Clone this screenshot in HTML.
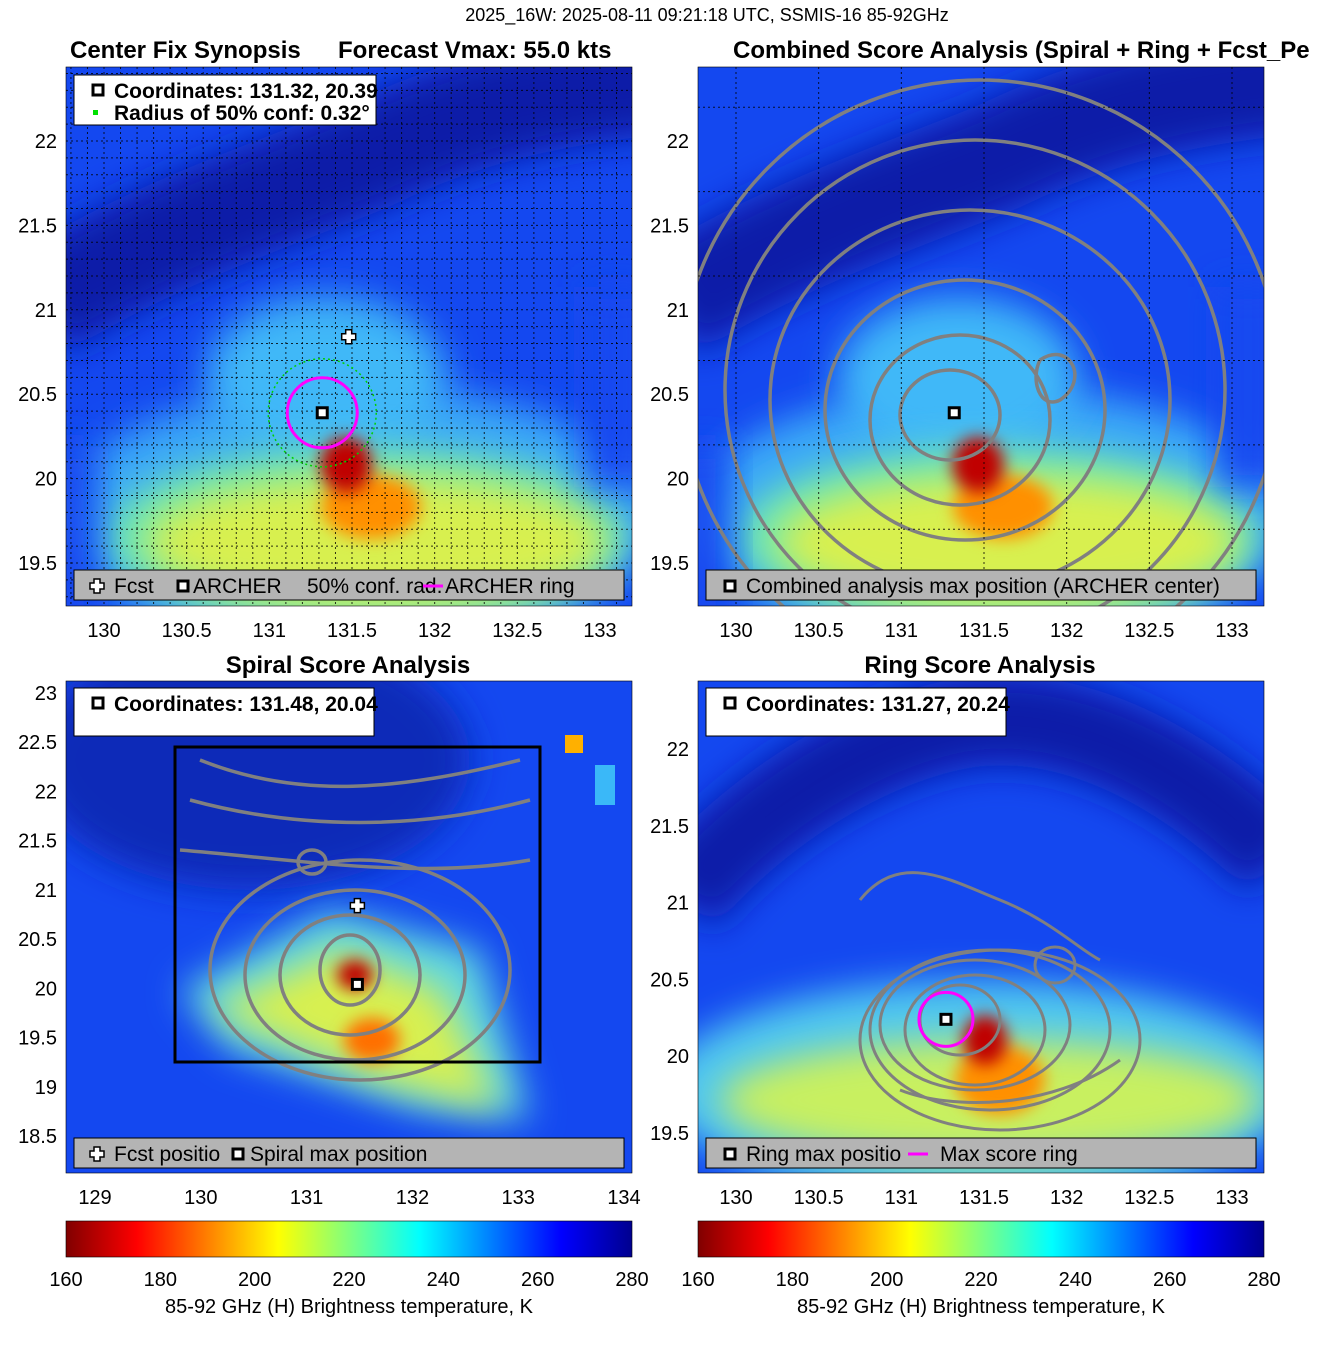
<!DOCTYPE html>
<html><head><meta charset="utf-8"><style>
body{margin:0;background:#fff;}
svg{display:block;font-family:"Liberation Sans",sans-serif;}
</style></head><body>
<svg id="fig" width="1317" height="1350" viewBox="0 0 1317 1350" xmlns="http://www.w3.org/2000/svg">
<defs>
<filter id="b1" x="-50%" y="-50%" width="200%" height="200%"><feGaussianBlur stdDeviation="18"/></filter>
<filter id="b2" x="-50%" y="-50%" width="200%" height="200%"><feGaussianBlur stdDeviation="8"/></filter>
<clipPath id="c1"><rect x="66" y="67" width="566" height="539"/></clipPath>
<clipPath id="c2"><rect x="698" y="67" width="566" height="539"/></clipPath>
<clipPath id="c3"><rect x="66" y="681" width="566" height="492"/></clipPath>
<clipPath id="c4"><rect x="698" y="681" width="566" height="492"/></clipPath>
<linearGradient id="jet" x1="0" x2="1" y1="0" y2="0">
<stop offset="0" stop-color="#800000"/><stop offset="0.125" stop-color="#ff0000"/><stop offset="0.375" stop-color="#ffff00"/><stop offset="0.625" stop-color="#00ffff"/><stop offset="0.875" stop-color="#0000ff"/><stop offset="1" stop-color="#00008f"/>
</linearGradient>
<g id="heatA">
<rect x="0" y="0" width="566" height="539" fill="#1448f0"/>
<path d="M-30,240 C80,170 200,130 300,90 C400,40 500,20 620,10" stroke="#0a1ca8" stroke-width="110" fill="none" filter="url(#b1)"/>
<ellipse cx="290" cy="450" rx="300" ry="130" fill="#3aa8f8" filter="url(#b1)"/>
<ellipse cx="260" cy="310" rx="120" ry="80" fill="#40b8f8" filter="url(#b1)"/>
<ellipse cx="300" cy="470" rx="260" ry="90" fill="#70e8b0" filter="url(#b1)"/>
<ellipse cx="310" cy="475" rx="230" ry="65" fill="#d8f050" filter="url(#b1)"/>
<ellipse cx="305" cy="440" rx="50" ry="32" fill="#ff9000" filter="url(#b2)"/>
<ellipse cx="280" cy="398" rx="26" ry="28" fill="#c00000" filter="url(#b2)"/>
<rect x="520" y="220" width="60" height="200" fill="#1448f0" filter="url(#b1)"/>
<rect x="-20" y="380" width="50" height="180" fill="#1448f0" filter="url(#b1)"/>
</g>
</defs>

<text x="707" y="21" font-size="18" text-anchor="middle">2025_16W: 2025-08-11 09:21:18 UTC, SSMIS-16 85-92GHz</text>

<!-- panel 1 -->
<g clip-path="url(#c1)"><use href="#heatA" x="66" y="67"/></g>
<g id="grid1"></g>
<text x="70" y="58" font-size="24" font-weight="bold">Center Fix Synopsis</text>
<text x="338" y="58" font-size="24" font-weight="bold">Forecast Vmax: 55.0 kts</text>

<!-- panel 2 -->
<g clip-path="url(#c2)"><use href="#heatA" x="698" y="67"/>
<g fill="none" stroke="#808080" stroke-width="3.5">
<ellipse cx="950" cy="415" rx="50" ry="45"/>
<ellipse cx="960" cy="420" rx="90" ry="85"/>
<ellipse cx="965" cy="410" rx="140" ry="130"/>
<ellipse cx="970" cy="400" rx="200" ry="190"/>
<ellipse cx="975" cy="390" rx="250" ry="250"/>
<ellipse cx="980" cy="380" rx="300" ry="300"/>
<path d="M1040,360 C1070,340 1090,380 1060,400 C1040,410 1030,380 1040,360"/>
</g></g>
<g id="grid2"></g>
<text x="733" y="58" font-size="24" font-weight="bold">Combined Score Analysis (Spiral + Ring + Fcst_Pe</text>

<!-- panel 3 -->
<g clip-path="url(#c3)">
<rect x="66" y="681" width="566" height="492" fill="#1448f0"/>
<ellipse cx="250" cy="760" rx="220" ry="130" fill="#0c2ab8" filter="url(#b1)"/>
<path d="M180,990 L330,910 L480,950 L530,1120 L420,1110 L230,1050 Z" fill="#60d8e0" filter="url(#b1)"/>
<path d="M210,1010 L340,950 L440,990 L500,1110 L380,1080 Z" fill="#d8f050" filter="url(#b1)"/>
<ellipse cx="372" cy="1040" rx="28" ry="22" fill="#ff7000" filter="url(#b2)"/>
<ellipse cx="355" cy="975" rx="18" ry="15" fill="#c00000" filter="url(#b2)"/>
<rect x="565" y="735" width="18" height="18" fill="#ffb000"/><rect x="595" y="765" width="20" height="40" fill="#3ab8f8"/>
<g fill="none" stroke="#808080" stroke-width="3.5">
<ellipse cx="350" cy="970" rx="30" ry="35"/><ellipse cx="350" cy="975" rx="70" ry="60"/><ellipse cx="355" cy="975" rx="110" ry="85"/>
<ellipse cx="360" cy="970" rx="150" ry="110"/><path d="M200,760 C300,800 400,790 520,760"/><path d="M190,800 C300,830 420,830 530,800"/>
<path d="M180,850 C300,860 420,880 530,860"/><ellipse cx="312" cy="862" rx="14" ry="12"/>
</g></g>
<rect x="175" y="747" width="365" height="315" fill="none" stroke="#000" stroke-width="3"/>
<g id="grid3"></g>
<text x="348" y="673" font-size="24" font-weight="bold" text-anchor="middle">Spiral Score Analysis</text>

<!-- panel 4 -->
<g clip-path="url(#c4)">
<rect x="698" y="681" width="566" height="492" fill="#1448f0"/>
<path d="M680,900 C760,800 900,720 1000,720 C1100,720 1200,780 1280,860" stroke="#0a1ca8" stroke-width="90" fill="none" filter="url(#b1)"/>
<ellipse cx="980" cy="1090" rx="320" ry="110" fill="#50c8f0" filter="url(#b1)"/>
<ellipse cx="990" cy="1100" rx="270" ry="60" fill="#c8f060" filter="url(#b1)"/>
<ellipse cx="1000" cy="1080" rx="45" ry="35" fill="#ff9000" filter="url(#b2)"/>
<ellipse cx="985" cy="1040" rx="22" ry="25" fill="#c00000" filter="url(#b2)"/>
<g fill="none" stroke="#808080" stroke-width="3">
<ellipse cx="960" cy="1020" rx="40" ry="35"/><ellipse cx="975" cy="1030" rx="70" ry="55"/><ellipse cx="990" cy="1030" rx="120" ry="80"/>
<ellipse cx="975" cy="1025" rx="95" ry="65"/><ellipse cx="1000" cy="1040" rx="140" ry="90"/>
<path d="M860,900 C900,850 950,880 1000,900 C1050,920 1080,950 1100,960"/><ellipse cx="1055" cy="965" rx="20" ry="18"/>
<path d="M900,1090 C950,1110 1050,1110 1120,1060"/>
</g></g>
<g id="grid4"></g>
<text x="980" y="673" font-size="24" font-weight="bold" text-anchor="middle">Ring Score Analysis</text>

<g id="overlay"></g>
</svg>
<script>
const xTicks=[130,130.5,131,131.5,132,132.5,133];
const yTicksA=[19.5,20,20.5,21,21.5,22];
const xTicks3=[129,130,131,132,133,134];
const yTicks3=[18.5,19,19.5,20,20.5,21,21.5,22,22.5,23];
const yTicks4=[19.5,20,20.5,21,21.5,22];
const cbTicks=[160,180,200,220,240,260,280];
const archerA=[131.32,20.39];
const fcstA=[131.48,20.84];
const spiralMax=[131.48,20.04];
const ringMax=[131.27,20.24];
const combinedMax=[131.32,20.39];

const NS='http://www.w3.org/2000/svg';
function el(tag,attrs,parent,txt){const e=document.createElementNS(NS,tag);for(const k in attrs)e.setAttribute(k,attrs[k]);if(txt!==undefined)e.textContent=txt;(parent||document.getElementById('overlay')).appendChild(e);return e;}
function mk(x0,x1,px0,px1){return v=>px0+(v-x0)*(px1-px0)/(x1-x0);}
const P=[
 {x:mk(130,133,104,600),y:mk(22,19.5,141,563),L:66,T:67,W:566,H:539,xt:xTicks,yt:yTicksA,g:'grid1',fine:true},
 {x:mk(130,133,736,1232),y:mk(22,19.5,141,563),L:698,T:67,W:566,H:539,xt:xTicks,yt:yTicksA,g:'grid2'},
 {x:mk(129,134,95,624),y:mk(23,18.5,693,1136),L:66,T:681,W:566,H:492,xt:xTicks3,yt:yTicks3,g:'grid3'},
 {x:mk(130,133,736,1232),y:mk(22,19.5,749,1133),L:698,T:681,W:566,H:492,xt:xTicks,yt:yTicks4,g:'grid4'}
];
P.forEach((p,i)=>{
 const g=document.getElementById(p.g);
 if(i<2){
  const step=p.fine?0.1:0.5;
  for(let v=129.5;v<=133.6;v+=step){const X=p.x(v);if(X>p.L&&X<p.L+p.W){const l=el('line',{x1:X,x2:X,y1:p.T,y2:p.T+p.H,stroke:'#000','stroke-width':1,'stroke-dasharray':'2,3',opacity:0.8},g);}}
  for(let v=19.2;v<=22.6;v+=step){const Y=p.y(v);if(Y>p.T&&Y<p.T+p.H){const l=el('line',{x1:p.L,x2:p.L+p.W,y1:Y,y2:Y,stroke:'#000','stroke-width':1,'stroke-dasharray':'2,3',opacity:0.8},g);}}
 }
 p.xt.forEach(v=>{const t=el('text',{x:p.x(v),y:p.T+p.H+31,'font-size':20,'text-anchor':'middle'},g,String(v));});
 p.yt.forEach(v=>{const t=el('text',{x:p.L-9,y:p.y(v)+7,'font-size':20,'text-anchor':'end'},g,String(v));});
});
function sqMarker(X,Y,name){const r=el('rect',{x:X-5,y:Y-5,width:10,height:10,fill:'#fff',stroke:'#000','stroke-width':3});}
function crossMarker(X,Y,name){const p=el('path',{d:`M${X-3},${Y-7}h6v4h4v6h-4v4h-6v-4h-4v-6h4z`,fill:'#fff',stroke:'#000','stroke-width':1.5});}
const p1=P[0];
const gc=el('circle',{cx:p1.x(archerA[0]),cy:p1.y(archerA[1]),r:54,fill:'none',stroke:'#00d000','stroke-width':1.5,'stroke-dasharray':'2,3'});

const mc=el('circle',{cx:p1.x(archerA[0]),cy:p1.y(archerA[1]),r:35,fill:'none',stroke:'#ff00ff','stroke-width':3});

sqMarker(p1.x(archerA[0]),p1.y(archerA[1]),'archer-center-marker');
crossMarker(p1.x(fcstA[0]),p1.y(fcstA[1]),'forecast-marker');
sqMarker(P[1].x(combinedMax[0]),P[1].y(combinedMax[1]),'combined-max-marker');
crossMarker(P[2].x(fcstA[0]),P[2].y(fcstA[1]),'spiral-forecast-marker');
sqMarker(P[2].x(spiralMax[0]),P[2].y(spiralMax[1]),'spiral-max-marker');
const rr=el('circle',{cx:P[3].x(ringMax[0]),cy:P[3].y(ringMax[1]),r:27,fill:'none',stroke:'#ff00ff','stroke-width':3});

sqMarker(P[3].x(ringMax[0]),P[3].y(ringMax[1]),'ring-max-marker');

function infoBox(x,y,w,h,lines,name){const g=el('g',{});
 el('rect',{x:x,y:y,width:w,height:h,fill:'#fff',stroke:'#000','stroke-width':1},g);
 lines.forEach((ln,i)=>{const ty=y+23+i*22;
  if(ln.m==='sq')el('rect',{x:x+19,y:ty-13,width:10,height:10,fill:'#fff',stroke:'#000','stroke-width':3},g);
  else el('rect',{x:x+19,y:ty-10,width:5,height:5,fill:'#00e000'},g);
  el('text',{x:x+40,y:ty,'font-size':21,'font-weight':'bold'},g,ln.t);});}
infoBox(74,75,302,50,[{m:'sq',t:'Coordinates: '+archerA[0].toFixed(2)+', '+archerA[1].toFixed(2)},{m:'g',t:'Radius of 50% conf: 0.32°'}],'synopsis-info-box');
infoBox(74,688,300,48,[{m:'sq',t:'Coordinates: '+spiralMax[0].toFixed(2)+', '+spiralMax[1].toFixed(2)}],'spiral-info-box');
infoBox(706,688,300,48,[{m:'sq',t:'Coordinates: '+ringMax[0].toFixed(2)+', '+ringMax[1].toFixed(2)}],'ring-info-box');

function legend(x,y,w,items,name){const g=el('g',{});
 el('rect',{x:x,y:y,width:w,height:30,fill:'#b4b4b4',stroke:'#000','stroke-width':1},g);
 items.forEach(it=>{const cy=y+16;
  if(it.m==='sq')el('rect',{x:it.x-5,y:cy-5,width:10,height:10,fill:'#fff',stroke:'#000','stroke-width':3},g);
  if(it.m==='cr')el('path',{d:`M${it.x-3},${cy-7}h6v4h4v6h-4v4h-6v-4h-4v-6h4z`,fill:'#fff',stroke:'#000','stroke-width':1.5},g);
  if(it.m==='mg')el('line',{x1:it.x-10,x2:it.x+10,y1:cy,y2:cy,stroke:'#ff00ff','stroke-width':3},g);
  el('text',{x:it.tx,y:y+23,'font-size':21},g,it.t);});}
legend(74,570,550,[{m:'cr',x:97,tx:114,t:'Fcst'},{m:'sq',x:183,tx:193,t:'ARCHER'},{m:'',x:0,tx:307,t:'50% conf. rad.'},{m:'mg',x:433,tx:445,t:'ARCHER ring'}],'synopsis-legend');
legend(706,570,550,[{m:'sq',x:730,tx:746,t:'Combined analysis max position (ARCHER center)'}],'combined-legend');
legend(74,1138,550,[{m:'cr',x:97,tx:114,t:'Fcst positio'},{m:'sq',x:238,tx:250,t:'Spiral max position'}],'spiral-legend');
legend(706,1138,550,[{m:'sq',x:730,tx:746,t:'Ring max positio'},{m:'mg',x:918,tx:940,t:'Max score ring'}],'ring-legend');

P.forEach((p,i)=>{const r=el('rect',{x:p.L,y:p.T,width:p.W,height:p.H,fill:'none',stroke:'#000','stroke-width':0.6});});

[66,698].forEach((L,i)=>{const cb=mk(160,280,L,L+566);
 const r=el('rect',{x:L,y:1221,width:566,height:36,fill:'url(#jet)',stroke:'#000','stroke-width':0.6});
 
 cbTicks.forEach(v=>{const t=el('text',{x:cb(v),y:1286,'font-size':20,'text-anchor':'middle'},undefined,String(v));});
 const lab=el('text',{x:L+283,y:1313,'font-size':20,'text-anchor':'middle'},undefined,'85-92 GHz (H) Brightness temperature, K');
 
});
</script>
</body></html>
